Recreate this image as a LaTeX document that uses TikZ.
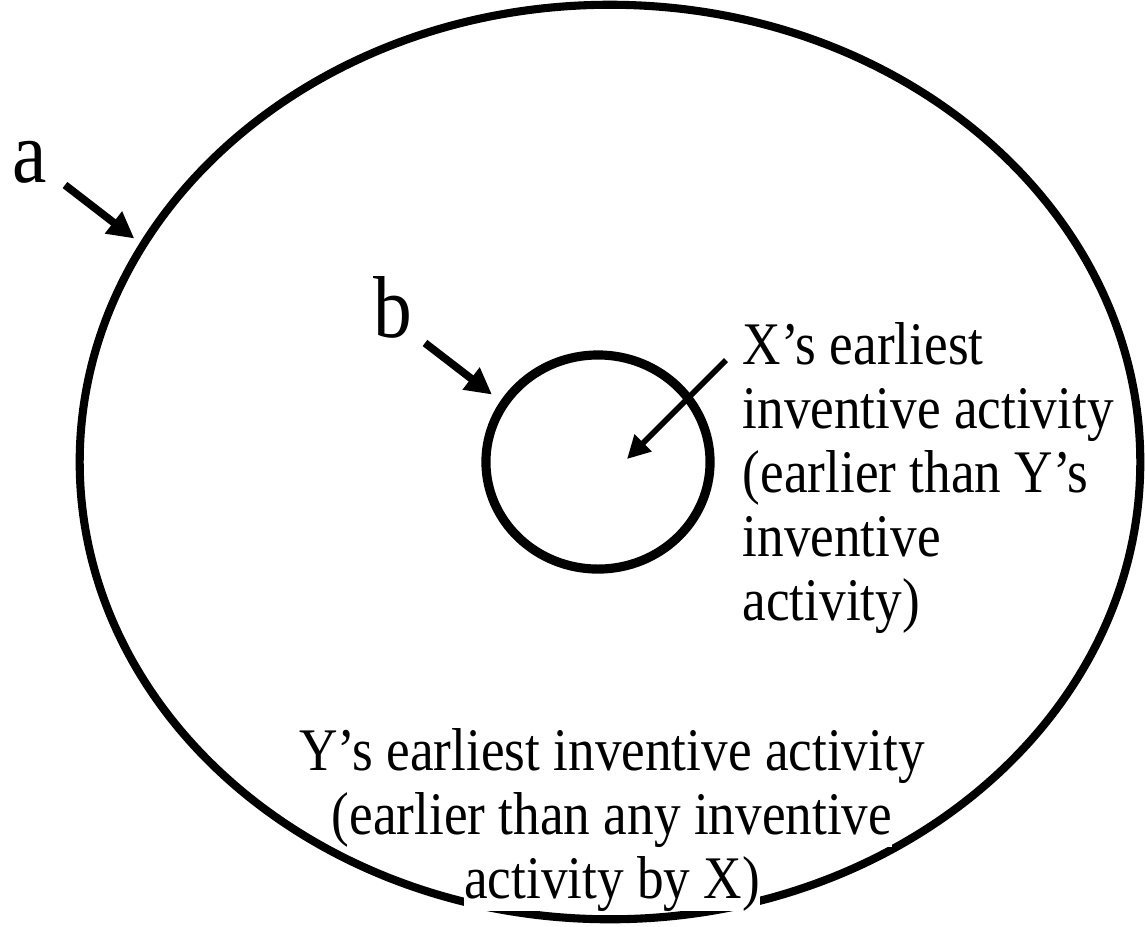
\documentclass[tikz,border=0pt]{standalone}
\usepackage{fontspec}
\usepackage{tikz}
\usetikzlibrary{positioning,shapes.geometric,arrows.meta}
\newfontfamily\figfont[FakeStretch=0.88]{Liberation Serif}

\begin{document}
\begin{tikzpicture}[
  x=0.01cm, y=-0.01cm,
  letter/.style={font=\figfont\fontsize{25}{25}\selectfont, inner sep=0pt},
  label/.style={font=\figfont\fontsize{17.2}{18.2}\selectfont, inner sep=0pt},
  ring/.style={ellipse, draw, inner sep=0pt},
  pointer/.style={-{Triangle[length=7.5pt,width=7.5pt]}, line width=2.2pt},
  thinpointer/.style={-{Triangle[length=6.5pt,width=6.5pt]}, line width=1.6pt}
]
  \useasboundingbox (0,0) rectangle (1145,926);

  % the two regions
  \node[ring, line width=2.3pt, minimum width=10.6cm, minimum height=9.14cm] (outer) at (610,462) {};
  \node[ring, line width=2.6pt, minimum width=2.24cm, minimum height=2.14cm] (inner) at (598,462) {};

  % letters and their arrows
  \node[letter, anchor=base] (alabel) at (30,182) {a};
  \node[letter, anchor=base] (blabel) at (393,337) {b};
  \coordinate (atail) at (65,185);
  \coordinate (btail) at (425,343);
  \draw[pointer, shorten >=2pt] (atail) -- (outer.155);
  \draw[pointer, shorten >=3pt] (btail) -- (inner.148);

  % X's text
  \node[label, align=left, anchor=north west] (xtext) at (742,322)
    {X’s earliest\\inventive activity\\(earlier than Y’s\\inventive\\activity)};
  \coordinate (xtail) at (726,360);
  \coordinate (xtip) at (627,459);
  \draw[thinpointer] (xtail) -- (xtip);

  % Y's text
  \node[label, fill=white, anchor=base] (yline1) at (612,770) {Y’s earliest inventive activity};
  \node[label, fill=white, anchor=base] (yline2) at (612,834) {(earlier than any inventive};
  \node[label, fill=white, anchor=base] (yline3) at (612,898) {activity by X)};
\end{tikzpicture}
\end{document}
